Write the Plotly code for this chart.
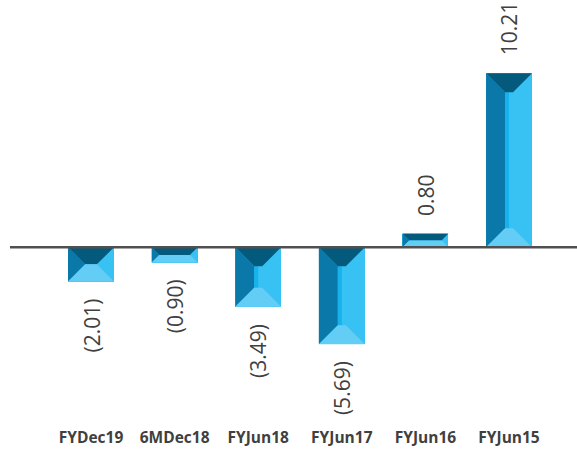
import plotly.graph_objects as go

# Earnings per period (negative values shown in parentheses)
categories = ["FYDec19", "6MDec18", "FYJun18", "FYJun17", "FYJun16", "FYJun15"]
values = [-2.01, -0.90, -3.49, -5.69, 0.80, 10.21]

# Bevelled bar palette
c_top = "#045a7c"
c_left = "#0a79aa"
c_strip = "#17b1ec"
c_right = "#38c2f4"
c_bottom = "#64cdf6"
text_color = "#404040"

W, H = 577, 450
margin = dict(l=10, r=0, t=0, b=28)
x_range = [-0.969, 5.813]
y_range = [-10.25, 14.50]
bar_w = 0.55
bevel_px = 19

plot_w = W - margin["l"] - margin["r"]
plot_h = H - margin["t"] - margin["b"]
px_x = plot_w / (x_range[1] - x_range[0])
px_y = plot_h / (y_range[1] - y_range[0])

xs = list(range(len(categories)))

fig = go.Figure()
fig.add_trace(go.Bar(
    x=xs, y=values, width=bar_w,
    marker=dict(color=c_right, line=dict(width=0)),
    hoverinfo="skip", showlegend=False,
))


def poly(pts):
    return "M " + " L ".join(f"{px},{py}" for px, py in pts) + " Z"


shapes = []
for x, v in zip(xs, values):
    x0, x1 = x - bar_w / 2, x + bar_w / 2
    top, bot = max(v, 0), min(v, 0)
    h_px = (top - bot) * px_y
    d_px = min(bevel_px, h_px / 2, bar_w * px_x / 2)
    dx = d_px / px_x
    dy = d_px / px_y
    ix0, ix1 = x0 + dx, x1 - dx
    iy_top, iy_bot = top - dy, bot + dy
    xm = x
    faces = [
        (c_left, [(x0, top), (ix0, iy_top), (ix0, iy_bot), (x0, bot)]),
        (c_strip, [(ix0, iy_top), (xm, iy_top), (xm, iy_bot), (ix0, iy_bot)]),
        (c_top, [(x0, top), (x1, top), (ix1, iy_top), (ix0, iy_top)]),
        (c_bottom, [(x0, bot), (x1, bot), (ix1, iy_bot), (ix0, iy_bot)]),
    ]
    for col, pts in faces:
        shapes.append(dict(type="path", xref="x", yref="y", path=poly(pts),
                           fillcolor=col, line=dict(width=0), layer="above"))

# Baseline across the full width
shapes.append(dict(type="line", xref="paper", yref="y", x0=0, x1=1, y0=0, y1=0,
                   line=dict(color="#505050", width=2.4), layer="above"))

annotations = []
for x, v in zip(xs, values):
    label = f"{v:.2f}" if v >= 0 else f"({abs(v):.2f})"
    annotations.append(dict(
        x=x, y=v, xref="x", yref="y", text=label, showarrow=False,
        textangle=-90, yanchor="bottom" if v >= 0 else "top",
        yshift=16 if v >= 0 else -15,
        font=dict(family="Open Sans", size=21, color=text_color),
    ))

fig.update_layout(
    width=W, height=H, margin=margin,
    paper_bgcolor="white", plot_bgcolor="white",
    shapes=shapes, annotations=annotations,
    xaxis=dict(range=x_range, tickvals=xs, ticktext=categories,
               showgrid=False, zeroline=False, showline=False, ticks="",
               ticklabelstandoff=4,
               tickfont=dict(family="Open Sans", size=15.5, color=text_color,
                             weight="bold"),
               fixedrange=True),
    yaxis=dict(range=y_range, visible=False, showgrid=False, zeroline=False,
               fixedrange=True),
    bargap=0,
)

fig.write_html("out.html", config={"displayModeBar": False})
